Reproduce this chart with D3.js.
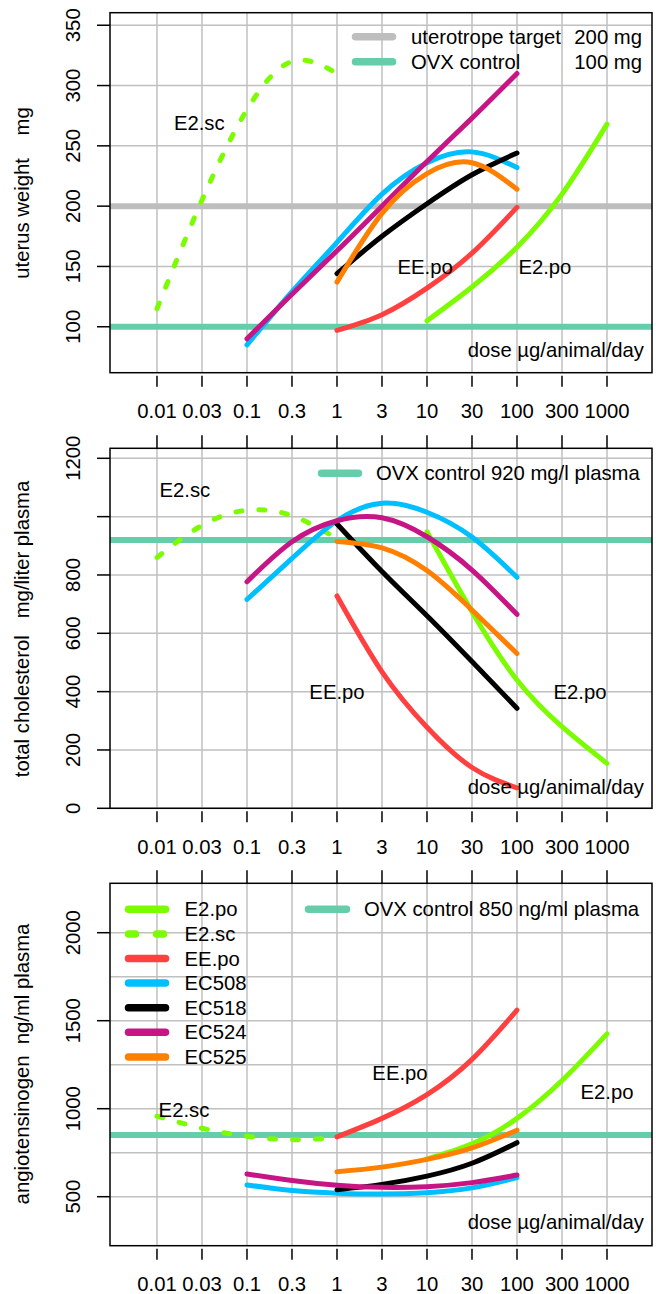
<!DOCTYPE html>
<html>
<head>
<meta charset="utf-8">
<script src="https://cdn.jsdelivr.net/npm/d3@7"></script>
<style>
  body { margin: 0; background: #fff; }
  text { font-family: Arial, "Liberation Sans", sans-serif; font-size: 20.3px; fill: #000; }
</style>
</head>
<body>
<svg id="chart" width="656" height="1294"></svg>
<script>
// x is log10 of the dose; the axis puts 0.03, 0.3, 3 ... on the half decades
const tickLog = [-2, -1.5, -1, -0.5, 0, 0.5, 1, 1.5, 2, 2.5, 3];
const tickLabels = ["0.01", "0.03", "0.1", "0.3", "1", "3", "10", "30", "100", "300", "1000"];

const compounds = ["E2.po", "E2.sc", "EE.po", "EC508", "EC518", "EC524", "EC525"];
const colours = ["#7cfc00", "#7cfc00", "#ff4040", "#00bfff", "#000000", "#c71585", "#ff7f00"];
const dashed = [false, true, false, false, false, false, false];

// log10 dose points for each compound (same in all three panels)
const doseLog = [
  [1, 1.5, 2, 2.5, 3],
  [-2, -1.5, -1, -0.5, 0],
  [0, 0.5, 1, 1.5, 2],
  [-1, -0.5, 0, 0.5, 1, 1.5, 2],
  [0, 0.5, 1, 1.5, 2],
  [-1, -0.5, 0, 0.5, 1, 1.5, 2],
  [0, 0.5, 1, 1.5, 2]
];

// uterus weight, mg
const uterusWeight = [
  [105, 133, 166, 210, 268],
  [115, 205, 280, 320, 310],
  [97, 110, 132, 161, 199],
  [85, 129, 170, 210, 236, 245, 232],
  [144, 175, 202, 226, 244],
  [90, 127, 163, 200, 237, 273, 310],
  [137, 194, 227, 236, 214]
];

// total cholesterol, mg/liter plasma
const cholesterol = [
  [948, 674, 440, 280, 154],
  [860, 970, 1022, 1003, 925],
  [728, 468, 278, 140, 70],
  [716, 857, 986, 1046, 1015, 930, 792],
  [975, 812, 660, 503, 343],
  [777, 914, 986, 996, 931, 817, 665],
  [915, 893, 815, 680, 531]
];

// angiotensinogen, ng/ml plasma
const angiotensinogen = [
  [715, 800, 945, 1160, 1425],
  [958, 889, 843, 824, 835],
  [840, 945, 1080, 1280, 1560],
  [567, 535, 520, 515, 523, 550, 608],
  [540, 570, 617, 690, 807],
  [629, 592, 565, 553, 557, 580, 623],
  [642, 668, 712, 777, 878]
];

const uterusTicks = [100, 150, 200, 250, 300, 350];
const cholTicks = [0, 200, 400, 600, 800, 1000, 1200];
const cholTickLabels = ["0", "200", "400", "600", "800", "", "1200"];
const angioTicks = [500, 1000, 1500, 2000];
const angioGrid = [500, 750, 1000, 1250, 1500, 1750, 2000];

const uterusTarget = 200, uterusOvx = 100, cholOvx = 920, angioOvx = 850;

// curve name labels: [text, log dose, value]
const uterusNotes = [["E2.sc", -1.53, 269], ["EE.po", 0.98, 150], ["E2.po", 2.31, 150]];
const cholNotes = [["E2.sc", -1.69, 1091], ["EE.po", 0.0, 400], ["E2.po", 2.7, 400]];
const angioNotes = [["EE.po", 0.7, 1203], ["E2.po", 3.0, 1097], ["E2.sc", -1.7, 993]];

const svg = d3.select("#chart");
const left = 110, right = 652;
const x = d3.scaleLinear().domain([-2.522, 3.5]).range([left, right]);

const panels = [
  { top: 12.7, bottom: 372.7, domain: [61.9, 360.4], values: uterusWeight,
    ticks: uterusTicks, tickText: uterusTicks.map(String), grid: uterusTicks,
    title: "uterus weight    mg", titleY: 193, topTicks: false,
    refs: [[uterusTarget, "#bebebe"], [uterusOvx, "#66cdaa"]],
    notes: uterusNotes, doseNote: 80.7 },
  { top: 448.3, bottom: 808.3, domain: [0, 1234.3], values: cholesterol,
    ticks: cholTicks, tickText: cholTickLabels, grid: cholTicks,
    title: "total cholesterol   mg/liter plasma", titleY: 629, topTicks: true,
    refs: [[cholOvx, "#66cdaa"]],
    notes: cholNotes, doseNote: 74 },
  { top: 883.3, bottom: 1245.7, domain: [221.6, 2280.7], values: angiotensinogen,
    ticks: angioTicks, tickText: angioTicks.map(String), grid: angioGrid,
    title: "angiotensinogen  ng/ml plasma", titleY: 1064, topTicks: true,
    refs: [[angioOvx, "#66cdaa"]],
    notes: angioNotes, doseNote: 358 }
];

panels.forEach((p, pi) => {
  const y = d3.scaleLinear().domain(p.domain).range([p.bottom, p.top]);
  const g = svg.append("g");

  // grid
  g.selectAll(".vg").data(tickLog).join("line")
    .attr("x1", d => x(d)).attr("x2", d => x(d))
    .attr("y1", p.top).attr("y2", p.bottom)
    .attr("stroke", "#c0c0c0").attr("stroke-width", 1.5);
  g.selectAll(".hg").data(p.grid).join("line")
    .attr("x1", left).attr("x2", right)
    .attr("y1", d => y(d)).attr("y2", d => y(d))
    .attr("stroke", "#c0c0c0").attr("stroke-width", 1.5);

  // reference lines
  p.refs.forEach(r => {
    g.append("line").attr("x1", left).attr("x2", right)
      .attr("y1", y(r[0])).attr("y2", y(r[0]))
      .attr("stroke", r[1]).attr("stroke-width", 6);
  });

  // curves
  const line = d3.line().x(d => x(d[0])).y(d => y(d[1])).curve(d3.curveNatural);
  compounds.forEach((c, i) => {
    const pts = doseLog[i].map((d, k) => [d, p.values[i][k]]);
    g.append("path").attr("d", line(pts))
      .attr("fill", "none").attr("stroke", colours[i]).attr("stroke-width", 5)
      .attr("stroke-linecap", "round")
      .attr("stroke-dasharray", dashed[i] ? "6,17" : null);
  });

  // box
  g.append("rect").attr("x", left).attr("y", p.top)
    .attr("width", right - left).attr("height", p.bottom - p.top)
    .attr("fill", "none").attr("stroke", "#000").attr("stroke-width", 1.5);

  // x ticks
  g.selectAll(".xt").data(tickLog).join("line")
    .attr("x1", d => x(d)).attr("x2", d => x(d))
    .attr("y1", p.bottom + 3).attr("y2", p.bottom + 14)
    .attr("stroke", "#000").attr("stroke-width", 1.5);
  if (p.topTicks) {
    g.selectAll(".xtt").data(tickLog).join("line")
      .attr("x1", d => x(d)).attr("x2", d => x(d))
      .attr("y1", p.top - 13).attr("y2", p.top)
      .attr("stroke", "#000").attr("stroke-width", 1.5);
  }
  g.selectAll(".xl").data(tickLog).join("text")
    .attr("x", d => x(d)).attr("y", p.bottom + 45.5)
    .attr("text-anchor", "middle")
    .text((d, i) => tickLabels[i]);

  // y ticks
  g.selectAll(".yt").data(p.ticks).join("line")
    .attr("x1", left - 13).attr("x2", left)
    .attr("y1", d => y(d)).attr("y2", d => y(d))
    .attr("stroke", "#000").attr("stroke-width", 1.5);
  g.selectAll(".yl").data(p.ticks).join("text")
    .attr("text-anchor", "middle")
    .attr("transform", d => `translate(80,${y(d)}) rotate(-90)`)
    .text((d, i) => p.tickText[i]);

  g.append("text").attr("text-anchor", "middle")
    .attr("transform", `translate(29,${p.titleY}) rotate(-90)`)
    .style("white-space", "pre")
    .text(p.title);

  // curve labels
  p.notes.forEach(n => {
    g.append("text").attr("x", x(n[1])).attr("y", y(n[2]))
      .attr("dy", "0.35em").attr("text-anchor", "middle").text(n[0]);
  });
  g.append("text").attr("x", 644).attr("y", y(p.doseNote))
    .attr("dy", "0.35em").attr("text-anchor", "end").text("dose \u00b5g/animal/day");
});

// legends
function legendLine(x1, x2, yy, colour, dash) {
  svg.append("line").attr("x1", x1 + 3.5).attr("x2", x2 - 3.5).attr("y1", yy).attr("y2", yy)
    .attr("stroke", colour).attr("stroke-width", 7.5).attr("stroke-linecap", "round")
    .attr("stroke-dasharray", dash ? "7,21" : null);
}
function legendText(xx, yy, s, anchor) {
  svg.append("text").attr("x", xx).attr("y", yy).attr("dy", "0.35em")
    .attr("text-anchor", anchor || "start").style("white-space", "pre").text(s);
}

legendLine(352, 396, 36.7, "#bebebe");
legendLine(352, 396, 61.7, "#66cdaa");
legendText(411, 36.7, "uterotrope target");
legendText(642, 36.7, "200 mg", "end");
legendText(411, 61.7, "OVX control");
legendText(642, 61.7, "100 mg", "end");

legendLine(318, 362, 473.3, "#66cdaa");
legendText(376, 473.3, "OVX control 920 mg/l plasma");

legendLine(305, 350, 909.3, "#66cdaa");
legendText(364, 909.3, "OVX control 850 ng/ml plasma");
compounds.forEach((c, i) => {
  const yy = 909.3 + i * 24.6;
  legendLine(125, 169, yy, colours[i], dashed[i]);
  legendText(184.6, yy, c);
});
</script>
</body>
</html>
